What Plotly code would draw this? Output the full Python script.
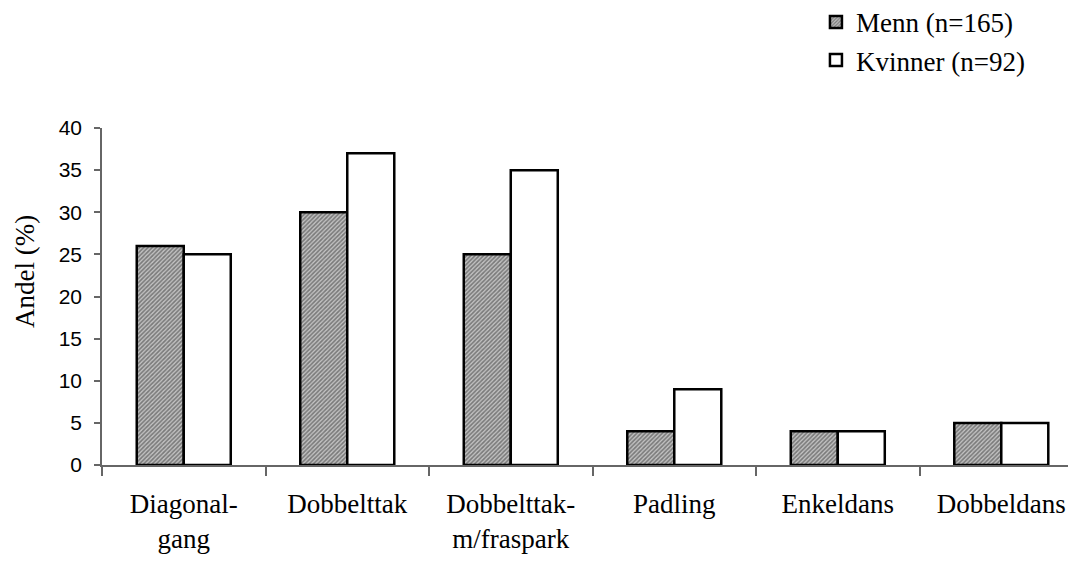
import plotly.graph_objects as go

categories = ["Diagonal-<br>gang", "Dobbelttak", "Dobbelttak-<br>m/fraspark", "Padling", "Enkeldans", "Dobbeldans"]
menn = [26, 30, 25, 4, 4, 5]
kvinner = [25, 37, 35, 9, 4, 5]
y_ticks = [0, 5, 10, 15, 20, 25, 30, 35, 40]

SERIF = "Liberation Serif, Times New Roman, serif"
SANS = "Liberation Sans, Arial, sans-serif"

fig = go.Figure()
fig.add_trace(go.Bar(
    x=categories, y=menn, name="Menn (n=165)",
    marker=dict(color="#a0a0a0", line=dict(color="black", width=2.5),
                pattern=dict(shape="/", size=3, solidity=0.55, fgcolor="#303030", bgcolor="#c4c4c4")),
))
fig.add_trace(go.Bar(
    x=categories, y=kvinner, name="Kvinner (n=92)",
    marker=dict(color="white", line=dict(color="black", width=2.5)),
))

# page body has an 8px margin; compensate so the figure fills the 1076x562 window
fig.update_layout(
    width=1068, height=554,
    paper_bgcolor="white", plot_bgcolor="white",
    margin=dict(l=94, r=0, t=120, b=97, autoexpand=False),
    barmode="group", bargap=0.425, bargroupgap=0,
    showlegend=True,
    legend=dict(x=0.733, y=1.386, xanchor="left", yanchor="top",
                font=dict(family=SERIF, size=27, color="black"),
                bgcolor="rgba(0,0,0,0)", tracegroupgap=0),
    xaxis=dict(
        type="category", range=[-0.5, 5.457],
        showline=True, linecolor="#666666", linewidth=1.5,
        ticks="outside", ticklen=9, tickcolor="#666666", tickwidth=1.5, tickson="boundaries",
        ticklabelstandoff=14,
        tickfont=dict(family=SERIF, size=27, color="black"),
        showgrid=False, zeroline=False, automargin=False,
    ),
    yaxis=dict(
        range=[0, 40], tickvals=y_ticks,
        showline=True, linecolor="#666666", linewidth=1.5,
        ticks="outside", ticklen=6, tickcolor="#666666", tickwidth=1.5, ticklabelstandoff=8,
        tickfont=dict(family=SANS, size=21, color="black"),
        showgrid=False, zeroline=False, automargin=False,
    ),
    annotations=[dict(
        text="Andel (%)", textangle=-90, xref="paper", yref="paper",
        x=-0.079, y=0.573, xanchor="center", yanchor="middle", showarrow=False,
        font=dict(family=SERIF, size=27, color="black"),
    )],
)

fig.write_html("out.html")
